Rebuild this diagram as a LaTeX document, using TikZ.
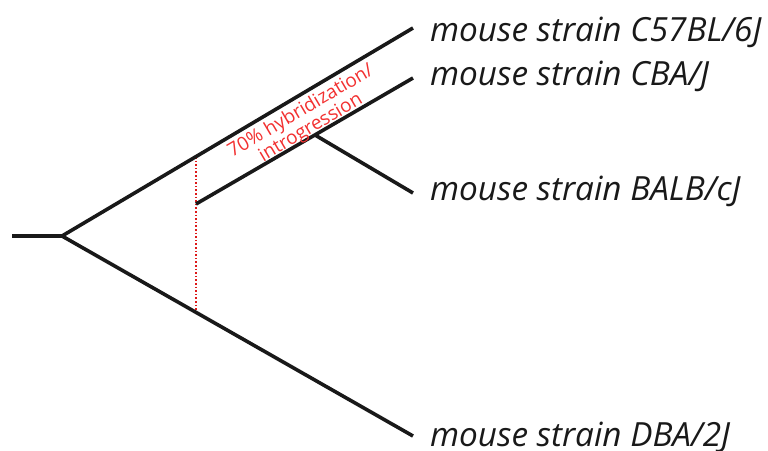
\documentclass[tikz,border=0pt]{standalone}
\usepackage{fontspec}
\setmainfont{Open Sans}
\begin{document}
\begin{tikzpicture}[x=1pt,y=-1pt,
  branch/.style={line width=3.6pt, black!90},
  hyb/.style={line width=1.6pt, red!85!black!90, dotted},
  strain/.style={anchor=west, inner sep=0pt, font=\fontsize{33.3}{40}\selectfont\itshape, text=black!90},
  note/.style={font=\fontsize{19}{17.5}\selectfont, text=red!80!white!95!black, align=center, rotate=30.6, inner sep=0pt}]
\useasboundingbox (0,0) rectangle (768,450);
\coordinate (r0) at (12,236);
\coordinate (r) at (62,236);
\coordinate (c57) at (413,28);
\coordinate (dba) at (413,436);
\coordinate (cbaS) at (196,204);
\coordinate (cba) at (413,78);
\coordinate (bS) at (315,135);
\coordinate (balb) at (413,193);
\coordinate (hT) at (196,157);
\coordinate (hB) at (196,313);
\draw[hyb] (hT) -- (hB);
\draw[branch] (r0) -- (r);
\draw[branch, line join=miter] (c57) -- (r) -- (dba);
\draw[branch] (cbaS) -- (cba);
\draw[branch] (bS) -- (balb);
\node[strain] (l1) at (430,32) {mouse strain C57BL/6J};
\node[strain] (l2) at (430,76) {mouse strain CBA/J};
\node[strain] (l3) at (430,191) {mouse strain BALB/cJ};
\node[strain] (l4) at (430,437) {mouse strain DBA/2J};
\node[note] (n) at (306,120) {70\% hybridization/\\introgression};
\end{tikzpicture}
\end{document}
